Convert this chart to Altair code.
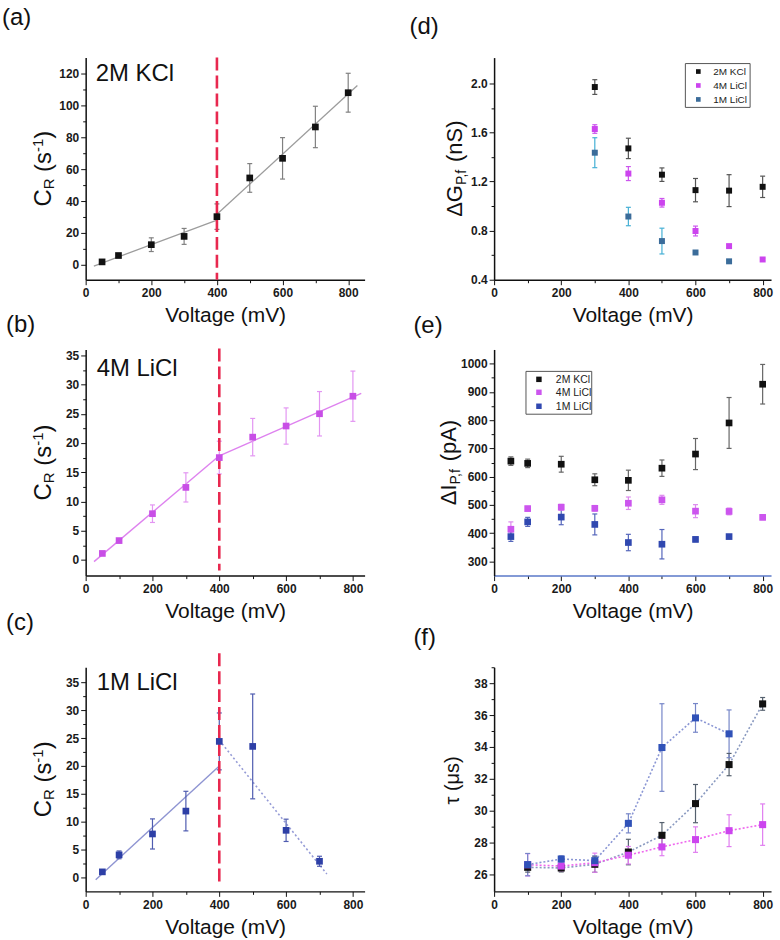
import json
import altair as alt
import pandas as pd

FONT = "Liberation Sans"
RED = "#e8284f"
S = ["2M KCl", "4M LiCl", "1M LiCl"]

# ---------------- data ----------------
V_ALL = [50, 100, 200, 300, 400, 500, 600, 700, 800]
V_1M = [50, 100, 200, 300, 400, 500, 600, 700]

# (a) capture rate, 2M KCl
CR_KCL = [1.8, 5.8, 12.6, 17.8, 30.2, 54.5, 66.8, 86.5, 108.0]
CR_KCL_ERR = [0.8, 1.0, 4.3, 5.0, 8.0, 9.0, 13.0, 13.0, 12.2]
FIT_A1_V = [25, 400]
FIT_A1_Y = [-0.8, 28.0]
FIT_A2_V = [400, 828]
FIT_A2_Y = [31.7, 112.5]

# (b) capture rate, 4M LiCl
CR_4M = [1.1, 3.3, 7.9, 12.4, 17.5, 21.0, 22.9, 25.0, 28.0]
CR_4M_ERR = [0.2, 0.3, 1.5, 2.5, 2.8, 3.2, 3.1, 3.8, 4.3]
FIT_B1_V = [25, 400]
FIT_B1_Y = [-0.3, 17.8]
FIT_B2_V = [400, 825]
FIT_B2_Y = [17.8, 28.5]

# (c) capture rate, 1M LiCl
CR_1M = [1.0, 4.05, 7.8, 11.9, 24.4, 23.5, 8.45, 2.9]
CR_1M_ERR = [0.3, 0.7, 2.7, 3.55, 5.1, 9.4, 2.0, 0.9]
FIT_C1_V = [30, 400]
FIT_C1_Y = [-0.4, 20.0]
FIT_C2_V = [400, 722]
FIT_C2_Y = [24.6, 0.6]

# (d) conductance drop
V_D = [300, 400, 500, 600, 700, 800]
V_D1 = [300, 400, 500, 600, 700]
G_KCL = [1.97, 1.47, 1.256, 1.13, 1.126, 1.157]
G_KCL_ERR = [0.06, 0.083, 0.055, 0.095, 0.13, 0.087]
G_4M = [1.628, 1.265, 1.027, 0.797, 0.674, 0.565]
G_4M_ERR = [0.035, 0.057, 0.035, 0.04, 0.012, 0.01]
G_1M = [1.435, 0.915, 0.715, 0.622, 0.55]
G_1M_ERR = [0.122, 0.075, 0.105, 0.01, 0.008]

# (e) current drop
I_KCL = [655, 647, 644, 589, 587, 630, 680, 790, 927]
I_KCL_ERR = [15, 15, 28, 21, 36, 29, 55, 90, 70]
I_4M = [414, 487, 492, 488, 506, 518, 478, 477, 456]
I_4M_ERR = [26, 8, 10, 10, 22, 16, 23, 12, 8]
I_1M = [388, 440, 457, 431, 367, 361, 378, 388]
I_1M_ERR = [17, 16, 27, 37, 29, 52, 8, 5]

# (f) dwell time
V_F = [100, 200, 300, 400, 500, 600, 700, 800]
V_F1 = [100, 200, 300, 400, 500, 600, 700]
T_KCL = [26.44, 26.40, 26.63, 27.4, 28.45, 30.44, 32.89, 36.7]
T_KCL_ERR = [0.3, 0.25, 0.5, 0.8, 0.8, 1.2, 0.7, 0.4]
T_4M = [26.6, 26.52, 26.73, 27.2, 27.72, 28.18, 28.74, 29.12]
T_4M_ERR = [0.7, 0.3, 0.6, 0.55, 0.55, 0.8, 1.0, 1.3]
T_1M = [26.61, 26.96, 26.86, 29.2, 33.96, 35.82, 34.82]
T_1M_ERR = [0.7, 0.2, 0.3, 0.6, 2.75, 0.9, 1.5]

X_TICKS = list(range(0, 801, 100))
X_MAJ = [0, 200, 400, 600, 800]


def one(vs, ys, es):
    df = pd.DataFrame({"V": vs, "y": ys, "err": es})
    df["lo"] = df["y"] - df["err"]
    df["hi"] = df["y"] + df["err"]
    return df


def multi(items):
    frames = []
    for name, vs, ys, es in items:
        d = one(vs, ys, es)
        d["s"] = name
        frames.append(d)
    return pd.concat(frames, ignore_index=True)


def fit(vs, ys):
    return pd.DataFrame({"V": vs, "y": ys})


ONE = pd.DataFrame({"k": [0]})

W = {'C': .722, 'R': .722, ' ': .278, '(': .333, ')': .333, 's': .5, '-': .333,
     '1': .556, 'Δ': .667, 'G': .778, 'P': .667, ',': .278, 'f': .278, 'n': .556,
     'S': .667, 'I': .278, 'p': .556, 'A': .667, 'τ': .5, 'μ': .576}


def tw(s, size):
    return sum(W.get(c, 0.556) for c in s) * size


def txt(text, x, y, size, angle=0, color="#111"):
    kw = dict(text=text, font=FONT, fontSize=size, align="left",
              baseline="alphabetic", color=color)
    if angle:
        kw["angle"] = angle
    return alt.Chart(ONE).mark_text(**kw).encode(x=alt.value(x), y=alt.value(y))


def ytitle(pieces, bx, cy):
    total = sum(tw(t, s) for t, s, _ in pieces)
    y = cy + total / 2
    out = []
    for t, s, sh in pieces:
        if t.startswith(" "):
            y -= tw(" ", s)
            t = t[1:]
        out.append(txt(t, bx + sh, y, s, angle=270))
        y -= tw(t, s)
    return out


def frame(L, R, T, B, w, h):
    # invisible diagonal rule that fixes the extent used by the grid layout
    return alt.Chart(ONE).mark_rule(opacity=0).encode(
        x=alt.value(-L), x2=alt.value(w + R), y=alt.value(-T), y2=alt.value(h + B))


def key(x0, y0, wd, ht, rows, colors, fs, sym, sx, tx):
    """Boxed key: rows = list of (name, y), colors in the same order."""
    out = [alt.Chart(ONE).mark_rect(fill="white", stroke="#555", strokeWidth=1).encode(
        x=alt.value(x0), x2=alt.value(x0 + wd), y=alt.value(y0), y2=alt.value(y0 + ht))]
    for (name, yy), c in zip(rows, colors):
        out.append(alt.Chart(ONE).mark_square(size=sym, color=c, opacity=1).encode(
            x=alt.value(sx), y=alt.value(yy)))
        out.append(txt(name, tx, yy + fs * 0.36, fs, color="#222"))
    return out


def axis(values, majors, title, fmt, label_pad, domain_color, title_pad):
    cond = "indexof(%s, datum.value) >= 0" % json.dumps(majors)
    kw = dict(values=values, title=title,
              labelExpr=cond + " ? datum.label : ''",
              tickSize={"condition": {"test": cond, "value": 5}, "value": 3},
              grid=False, domainColor=domain_color, domainWidth=1.5,
              tickColor="#111", tickWidth=1, labelOverlap=False, labelFlush=False,
              labelFont=FONT, labelFontSize=12, labelFontWeight="bold",
              labelColor="#1a1a1a", labelPadding=label_pad,
              titleFont=FONT, titleFontSize=21, titleFontWeight="normal",
              titleColor="#111", titlePadding=title_pad)
    if fmt:
        kw["format"] = fmt
    return alt.Axis(**kw)


def make_panel(w, h, xmax, ydom, yvals, ymaj, yfmt, build, ext, xdc="#111"):
    xs = alt.Scale(domain=[0, xmax], nice=False, zero=False)
    ys = alt.Scale(domain=ydom, nice=False, zero=False)
    xa = axis(X_TICKS, X_MAJ, "Voltage (mV)", None, 3, xdc, 6)
    ya = axis(yvals, ymaj, None, yfmt, 2, "#111", 0)

    def X(f):
        return alt.X(f, type="quantitative", scale=xs, axis=xa)

    def Y(f):
        return alt.Y(f, type="quantitative", scale=ys, axis=ya)

    def XD(v):
        return alt.XDatum(v, type="quantitative", scale=xs, axis=xa)

    layers = [frame(*ext, w, h)] + build(X, Y, XD, w, h)
    return alt.layer(*layers).properties(width=w, height=h)


def ebars(df, X, Y, stroke, width=1.2, cap=5):
    if isinstance(stroke, str):
        mk, enc = {"color": stroke}, {}
    else:
        mk, enc = {}, {"stroke": stroke}
    body = alt.Chart(df).mark_rule(strokeWidth=width, **mk).encode(
        x=X("V"), y=Y("lo"), y2=alt.Y2("hi"), **enc)
    lo = alt.Chart(df).mark_rule(strokeWidth=width, xOffset=-cap / 2, x2Offset=cap / 2, **mk).encode(
        x=X("V"), x2=alt.X2("V"), y=Y("lo"), **enc)
    hi = alt.Chart(df).mark_rule(strokeWidth=width, xOffset=-cap / 2, x2Offset=cap / 2, **mk).encode(
        x=X("V"), x2=alt.X2("V"), y=Y("hi"), **enc)
    return [body, lo, hi]


def redline(XD, top, bottom, h):
    return alt.Chart(ONE).mark_rule(color=RED, strokeWidth=2.6, strokeDash=[13, 5]).encode(
        x=XD(400), y=alt.value(top), y2=alt.value(h - bottom))


CR_TITLE = [("C", 24, 0), ("R", 15, 3), (" (s", 24, 0), ("-1", 15, -8), (")", 24, 0)]

LW, RW = 280, 278
H1, H2, H3 = 223, 227, 225
ROW_SP = -40
# (left, right, top, bottom) layout extents per panel
EXT_L1, EXT_R1 = (85, 2, 55, 68), (90, 8, 55, 68)
EXT_L2, EXT_R2 = (85, 2, 40, 77), (90, 8, 40, 77)
EXT_L3, EXT_R3 = (85, 2, 53, 40), (90, 8, 53, 40)

D_COLORS = ["#111111", "#cc44ee", "#3b6c9a"]
E_COLORS = ["#111111", "#cc55ee", "#3048b0"]


# ---------------- (a) ----------------
def build_a(X, Y, XD, w, h):
    df = one(V_ALL, CR_KCL, CR_KCL_ERR)
    L = [
        alt.Chart(fit(FIT_A1_V, FIT_A1_Y)).mark_line(color="#9c9c9c", strokeWidth=1.3).encode(x=X("V"), y=Y("y")),
        alt.Chart(fit(FIT_A2_V, FIT_A2_Y)).mark_line(color="#9c9c9c", strokeWidth=1.3).encode(x=X("V"), y=Y("y")),
    ]
    L += ebars(df, X, Y, "#808080")
    L.append(redline(XD, 0, 0, h))
    L.append(alt.Chart(df).mark_square(size=45, color="#111", opacity=1).encode(x=X("V"), y=Y("y")))
    L.append(txt("2M KCl", 10, 24, 24))
    L.append(txt("(a)", -84, -33, 24))
    L += ytitle(CR_TITLE, -35, h / 2)
    return L


pa = make_panel(LW, H1, 850, [-9.4, 130.05], list(range(0, 121, 10)), list(range(0, 121, 20)), "d",
                build_a, EXT_L1)


# ---------------- (b) ----------------
def build_b(X, Y, XD, w, h):
    df = one(V_ALL, CR_4M, CR_4M_ERR)
    L = [
        alt.Chart(fit(FIT_B1_V, FIT_B1_Y)).mark_line(color="#de82ef", strokeWidth=1.4).encode(x=X("V"), y=Y("y")),
        alt.Chart(fit(FIT_B2_V, FIT_B2_Y)).mark_line(color="#de82ef", strokeWidth=1.4).encode(x=X("V"), y=Y("y")),
    ]
    L += ebars(df, X, Y, "#e396f2")
    L.append(redline(XD, -1, 5, h))
    L.append(alt.Chart(df).mark_square(size=45, color="#c84ee6", opacity=1).encode(x=X("V"), y=Y("y")))
    L.append(txt("4M LiCl", 11, 27, 24))
    L.append(txt("(b)", -80, -18, 24))
    # label of the panel below, placed in this cell's coordinates
    L.append(txt("(c)", -80, h + 55, 24))
    L += ytitle(CR_TITLE, -35, h / 2)
    return L


MIN25 = [i * 2.5 for i in range(0, 15)]
MAJ5 = list(range(0, 36, 5))
pb = make_panel(LW, H2, 835, [-2.69, 36.0], MIN25, MAJ5, "d", build_b, EXT_L2)


# ---------------- (c) ----------------
def build_c(X, Y, XD, w, h):
    df = one(V_1M, CR_1M, CR_1M_ERR)
    L = [
        alt.Chart(fit(FIT_C1_V, FIT_C1_Y)).mark_line(color="#8e94d2", strokeWidth=1.4).encode(x=X("V"), y=Y("y")),
        alt.Chart(fit(FIT_C2_V, FIT_C2_Y)).mark_line(color="#959bd6", strokeWidth=1.6, strokeDash=[2, 2.5]).encode(x=X("V"), y=Y("y")),
    ]
    L += ebars(df, X, Y, "#4f5cb0")
    L.append(redline(XD, -14, 5, h))
    L.append(alt.Chart(df).mark_square(size=45, color="#2d3fa6", opacity=1).encode(x=X("V"), y=Y("y")))
    L.append(txt("1M LiCl", 11, 23, 24))
    L += ytitle(CR_TITLE, -35, h / 2)
    return L


pc = make_panel(LW, H3, 835, [-2.5, 37.7], MIN25, MAJ5, "d", build_c, EXT_L3)


# ---------------- (d) ----------------
def build_d(X, Y, XD, w, h):
    df = multi([(S[0], V_D, G_KCL, G_KCL_ERR), (S[1], V_D, G_4M, G_4M_ERR), (S[2], V_D1, G_1M, G_1M_ERR)])
    stroke = alt.Stroke("s:N", scale=alt.Scale(domain=S, range=["#555555", "#cc55ee", "#45b0d5"]), legend=None)
    fill = alt.Fill("s:N", scale=alt.Scale(domain=S, range=D_COLORS), legend=None)
    L = ebars(df, X, Y, stroke)
    L.append(alt.Chart(df).mark_square(size=36, opacity=1).encode(x=X("V"), y=Y("y"), fill=fill))
    L += key(192, 6, 65, 44, list(zip(S, [14, 28, 42])), D_COLORS, 10, 22, 205, 220)
    L.append(txt("(d)", -85, -24, 24))
    L += ytitle([("ΔG", 22, 0), ("P,f", 14, 4), (" (nS)", 22, 0)], -32, h / 2)
    return L


pd_ = make_panel(RW, H1, 825, [0.4, 2.21], [0.4, 0.6, 0.8, 1.0, 1.2, 1.4, 1.6, 1.8, 2.0],
                 [0.4, 0.8, 1.2, 1.6, 2.0], ".1f", build_d, EXT_R1)


# ---------------- (e) ----------------
def build_e(X, Y, XD, w, h):
    df = multi([(S[0], V_ALL, I_KCL, I_KCL_ERR), (S[1], V_ALL, I_4M, I_4M_ERR), (S[2], V_1M, I_1M, I_1M_ERR)])
    stroke = alt.Stroke("s:N", scale=alt.Scale(domain=S, range=["#666666", "#dd88ee", "#5566bb"]), legend=None)
    fill = alt.Fill("s:N", scale=alt.Scale(domain=S, range=E_COLORS), legend=None)
    L = ebars(df, X, Y, stroke)
    L.append(alt.Chart(df).mark_square(size=45, opacity=1).encode(x=X("V"), y=Y("y"), fill=fill))
    L += key(32, 22, 66, 43, list(zip(S, [30, 43, 57])), E_COLORS, 10.5, 30, 45, 62)
    L.append(txt("(e)", -81, -17, 24))
    # label of the panel below, placed in this cell's coordinates
    L.append(txt("(f)", -81, h + 70, 24))
    L += ytitle([("ΔI", 22, 0), ("P,f", 14, 4), (" (pA)", 22, 0)], -38, h / 2)
    return L


pe = make_panel(RW, H2, 825, [250, 1050], list(range(300, 1001, 50)), list(range(300, 1001, 100)), "d",
                build_e, EXT_R2, xdc="#5a78c8")


# ---------------- (f) ----------------
def build_f(X, Y, XD, w, h):
    df = multi([(S[0], V_F, T_KCL, T_KCL_ERR), (S[1], V_F, T_4M, T_4M_ERR), (S[2], V_F1, T_1M, T_1M_ERR)])
    line_c = alt.Color("s:N", scale=alt.Scale(domain=S, range=["#8a9ac0", "#ee66ee", "#8a96d4"]), legend=None)
    stroke = alt.Stroke("s:N", scale=alt.Scale(domain=S, range=["#55606e", "#e07ef0", "#7686c8"]), legend=None)
    fill = alt.Fill("s:N", scale=alt.Scale(domain=S, range=["#111111", "#cc44ee", "#3052b8"]), legend=None)
    L = [alt.Chart(df).mark_line(strokeWidth=1.6, strokeDash=[2, 2]).encode(x=X("V"), y=Y("y"), color=line_c)]
    L += ebars(df, X, Y, stroke)
    L.append(alt.Chart(df).mark_square(size=50, opacity=1).encode(x=X("V"), y=Y("y"), fill=fill))
    L += ytitle([("τ (μs)", 20, 0)], -35, h / 2)
    return L


pf = make_panel(RW, H3, 825, [24.93, 39.0], list(range(26, 40)), list(range(26, 39, 2)), "d", build_f, EXT_R3)

chart = alt.concat(
    pa, pd_, pb, pe, pc, pf, columns=2, spacing={"row": ROW_SP, "column": 36},
    align="each", bounds="full"
).resolve_scale(
    fill="independent", stroke="independent", color="independent"
).properties(
    padding={"left": 0, "top": 0, "right": 0, "bottom": 0}, background="white"
).configure_view(stroke="transparent")

chart.save("out.html", embed_options={"renderer": "svg", "actions": False})
